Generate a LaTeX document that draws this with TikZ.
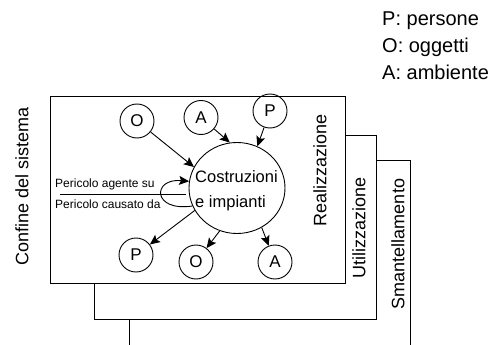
\documentclass[tikz,border=0pt]{standalone}
\usepackage{fontspec}
\setmainfont{Liberation Sans}
\usetikzlibrary{shapes.geometric,arrows.meta}
\begin{document}
\begin{tikzpicture}[x=1pt,y=-1pt,
  frame/.style={draw, line width=0.9pt, fill=white},
  item/.style={circle, draw, line width=0.9pt, minimum size=34pt, inner sep=0pt,
    font=\fontsize{17}{17}\selectfont},
  arr/.style={line width=0.9pt, -{Stealth[length=10pt,width=9pt,inset=2pt]}},
  phase/.style={rotate=90, inner sep=0pt, font=\fontsize{18}{18}\selectfont},
  legend/.style={anchor=base west, inner sep=0pt, font=\fontsize{20}{20}\selectfont},
  small/.style={anchor=west, inner sep=0pt, font=\fontsize{12}{12}\selectfont},
  bigtxt/.style={anchor=west, inner sep=0pt, font=\fontsize{16.5}{16.5}\selectfont}]
\useasboundingbox (0,0) rectangle (490,345);
\clip (0,0) rectangle (490,345);

% stacked life-cycle phases, back to front
\draw[frame] (129,160) rectangle (410,360);
\draw[frame] (94,135) rectangle (376,319);
\draw[frame] (50,96) rectangle (345,283);

% phase labels
\node[phase] (lconf) at (22,186) {Confine del sistema};
\node[phase] (lreal) at (320,170) {Realizzazione};
\node[phase] (lutil) at (359,228) {Utilizzazione};
\node[phase] (lsman) at (398,244) {Smantellamento};

% legend
\node[legend] (kp) at (382,26) {P: persone};
\node[legend] (ko) at (382,53) {O: oggetti};
\node[legend] (ka) at (382,80) {A: ambiente};

% central system
\node[ellipse, draw, line width=0.9pt, minimum width=96pt, minimum height=91pt,
  inner sep=0pt] (big) at (237,188) {};
\node[bigtxt] (t1) at (195,177) {Costruzioni};
\node[bigtxt] (t2) at (195,203) {e impianti};

% incoming hazards
\node[item] (otop) at (137,121) {O};
\node[item] (atop) at (201,117.5) {A};
\node[item] (ptop) at (270,111) {P};
\draw[arr] (otop) -- (big.154);
\draw[arr] (atop) -- (big.99);
\draw[arr] (ptop) -- (big.64);

% outgoing hazards
\node[item] (pbot) at (136,255) {P};
\node[item] (obot) at (196,262) {O};
\node[item] (abot) at (275,262) {A};
\draw[arr] (big.208) -- (pbot);
\draw[arr] (big.248) -- (obot);
\draw[arr] (big.302) -- (abot);

% self loop with its two readings
\coordinate (sl) at (60,194);
\coordinate (sr) at (186,194);
\draw[line width=0.9pt] (sl) -- (sr);
\draw[arr] (big.202) .. controls (152,212) and (152,178) .. (big.172);
\node[small] (pa) at (55,184) {Pericolo agente su};
\node[small] (pc) at (55,204) {Pericolo causato da};
\end{tikzpicture}
\end{document}
